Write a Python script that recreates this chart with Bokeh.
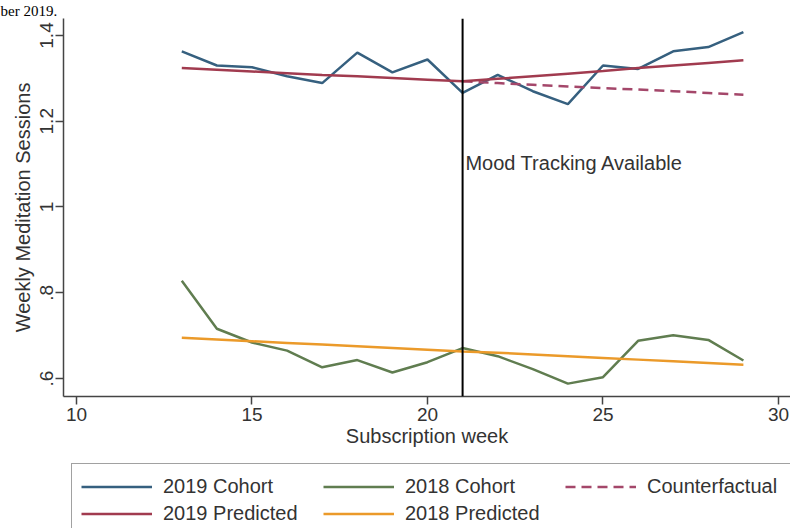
from bokeh.plotting import figure
from bokeh.layouts import column
from bokeh.models import Span, Label, Legend, LegendItem, FixedTicker, Range1d, Title
from bokeh.embed import file_html
from bokeh.resources import INLINE

# ---- data ----
weeks = [13, 14, 15, 16, 17, 18, 19, 20, 21, 22, 23, 24, 25, 26, 27, 28, 29]
cohort_2019 = [1.363, 1.330, 1.326, 1.305, 1.289, 1.360, 1.314, 1.344, 1.266,
               1.308, 1.270, 1.240, 1.330, 1.322, 1.363, 1.373, 1.408]
cohort_2018 = [0.828, 0.716, 0.684, 0.665, 0.626, 0.643, 0.614, 0.638, 0.671,
               0.652, 0.622, 0.588, 0.603, 0.688, 0.701, 0.690, 0.642]
pred_2019 = [1.324, 1.320, 1.316, 1.312, 1.308, 1.305, 1.301, 1.297, 1.293,
             1.299, 1.305, 1.311, 1.317, 1.324, 1.330, 1.336, 1.342]
pred_2018 = [0.695, 0.691, 0.687, 0.683, 0.679, 0.675, 0.671, 0.667, 0.663,
             0.660, 0.656, 0.652, 0.648, 0.644, 0.640, 0.636, 0.632]
cf_weeks = [21, 22, 23, 24, 25, 26, 27, 28, 29]
counterfactual = [1.293, 1.289, 1.285, 1.281, 1.277, 1.274, 1.270, 1.266, 1.262]

intervention_week = 21
x_ticks = [10, 15, 20, 25, 30]
y_ticks = [0.6, 0.8, 1.0, 1.2, 1.4]
y_tick_labels = [".6", ".8", "1", "1.2", "1.4"]

series_names = ["2019 Cohort", "2018 Cohort", "Counterfactual",
                "2019 Predicted", "2018 Predicted"]

FONT = "Liberation Sans"
C_BLUE = "#36607f"
C_GREEN = "#607d50"
C_RED = "#a13b4f"
C_CF = "#a4476a"
C_ORANGE = "#eb9a2a"

series = [(weeks, cohort_2019), (weeks, cohort_2018), (cf_weeks, counterfactual),
          (weeks, pred_2019), (weeks, pred_2018)]
styles = [dict(line_color=C_BLUE, line_width=2.5),
          dict(line_color=C_GREEN, line_width=2.5),
          dict(line_color=C_CF, line_width=2.5, line_dash="10 6"),
          dict(line_color=C_RED, line_width=2.5),
          dict(line_color=C_ORANGE, line_width=2.5)]

p = figure(width=790, height=463, output_backend="svg", toolbar_location=None,
           x_range=Range1d(9.630, 30.342), y_range=Range1d(0.558, 1.4396),
           min_border_left=63, min_border_right=0, min_border_top=18,
           min_border_bottom=67)
p.outline_line_color = None
p.background_fill_color = "white"
p.border_fill_color = "white"
p.xgrid.visible = False
p.ygrid.visible = False

p.title = Title(text="ber 2019.", text_font="Liberation Serif",
                text_font_size="15px", text_font_style="normal",
                text_color="black", align="left", offset=-63, standoff=0)

for (xs, ys), s in zip(series, styles):
    p.line(xs, ys, **s)

p.add_layout(Span(location=intervention_week, dimension="height",
                  line_color="black", line_width=2))
p.add_layout(Label(x=21.08, y=1.1015, text="Mood Tracking Available",
                   text_font=FONT, text_font_size="20px", text_color="#333333",
                   text_baseline="middle", text_align="left"))

# axes
p.xaxis.ticker = FixedTicker(ticks=x_ticks)
p.yaxis.ticker = FixedTicker(ticks=y_ticks)
p.yaxis.major_label_overrides = {t: l for t, l in zip(y_ticks, y_tick_labels)}
p.yaxis.major_label_orientation = "vertical"
for ax in (p.xaxis, p.yaxis):
    ax.axis_line_color = "#444444"
    ax.axis_line_width = 1.5
    ax.major_tick_line_color = "#444444"
    ax.major_tick_line_width = 1.5
    ax.major_tick_out = 8
    ax.major_tick_in = 0
    ax.minor_tick_out = 0
    ax.minor_tick_in = 0
    ax.major_label_text_font = FONT
    ax.major_label_text_font_size = "19px"
    ax.major_label_text_color = "#333333"
    ax.axis_label_text_font = FONT
    ax.axis_label_text_font_size = "20px"
    ax.axis_label_text_font_style = "normal"
    ax.axis_label_text_color = "#333333"
p.xaxis.axis_label = "Subscription week"
p.yaxis.axis_label = "Weekly Meditation Sessions"
p.xaxis.major_label_standoff = 3
p.xaxis.axis_label_standoff = 1
p.yaxis.major_label_standoff = 2
p.yaxis.axis_label_standoff = 4

# legend panel (a second, axis-less figure directly below; its ranges keep
# the series themselves out of view so only the legend shows)
q = figure(width=790, height=65, output_backend="svg", toolbar_location=None,
           x_axis_type=None, y_axis_type=None,
           x_range=Range1d(0, 1), y_range=Range1d(0, 0.1),
           min_border_left=0, min_border_right=0, min_border_top=0,
           min_border_bottom=0)
q.outline_line_color = None
q.background_fill_color = "white"
q.border_fill_color = "white"
q.xgrid.visible = False
q.ygrid.visible = False
legend_renderers = [q.line(xs, ys, **s) for (xs, ys), s in zip(series, styles)]

legend = Legend(items=[LegendItem(label=n, renderers=[r])
                       for n, r in zip(series_names, legend_renderers)],
                orientation="horizontal", ncols=3,
                location=(8, -9),
                glyph_width=71, glyph_height=27, label_height=27, label_width=160,
                label_standoff=11, spacing=0, padding=9, margin=0,
                label_text_font=FONT, label_text_font_size="20px",
                label_text_color="#333333",
                border_line_color="#444444", border_line_width=1,
                background_fill_color="white", background_fill_alpha=1)
q.add_layout(legend, "center")

layout = column(p, q, spacing=0)
open("out.html", "w").write(file_html(layout, INLINE))
